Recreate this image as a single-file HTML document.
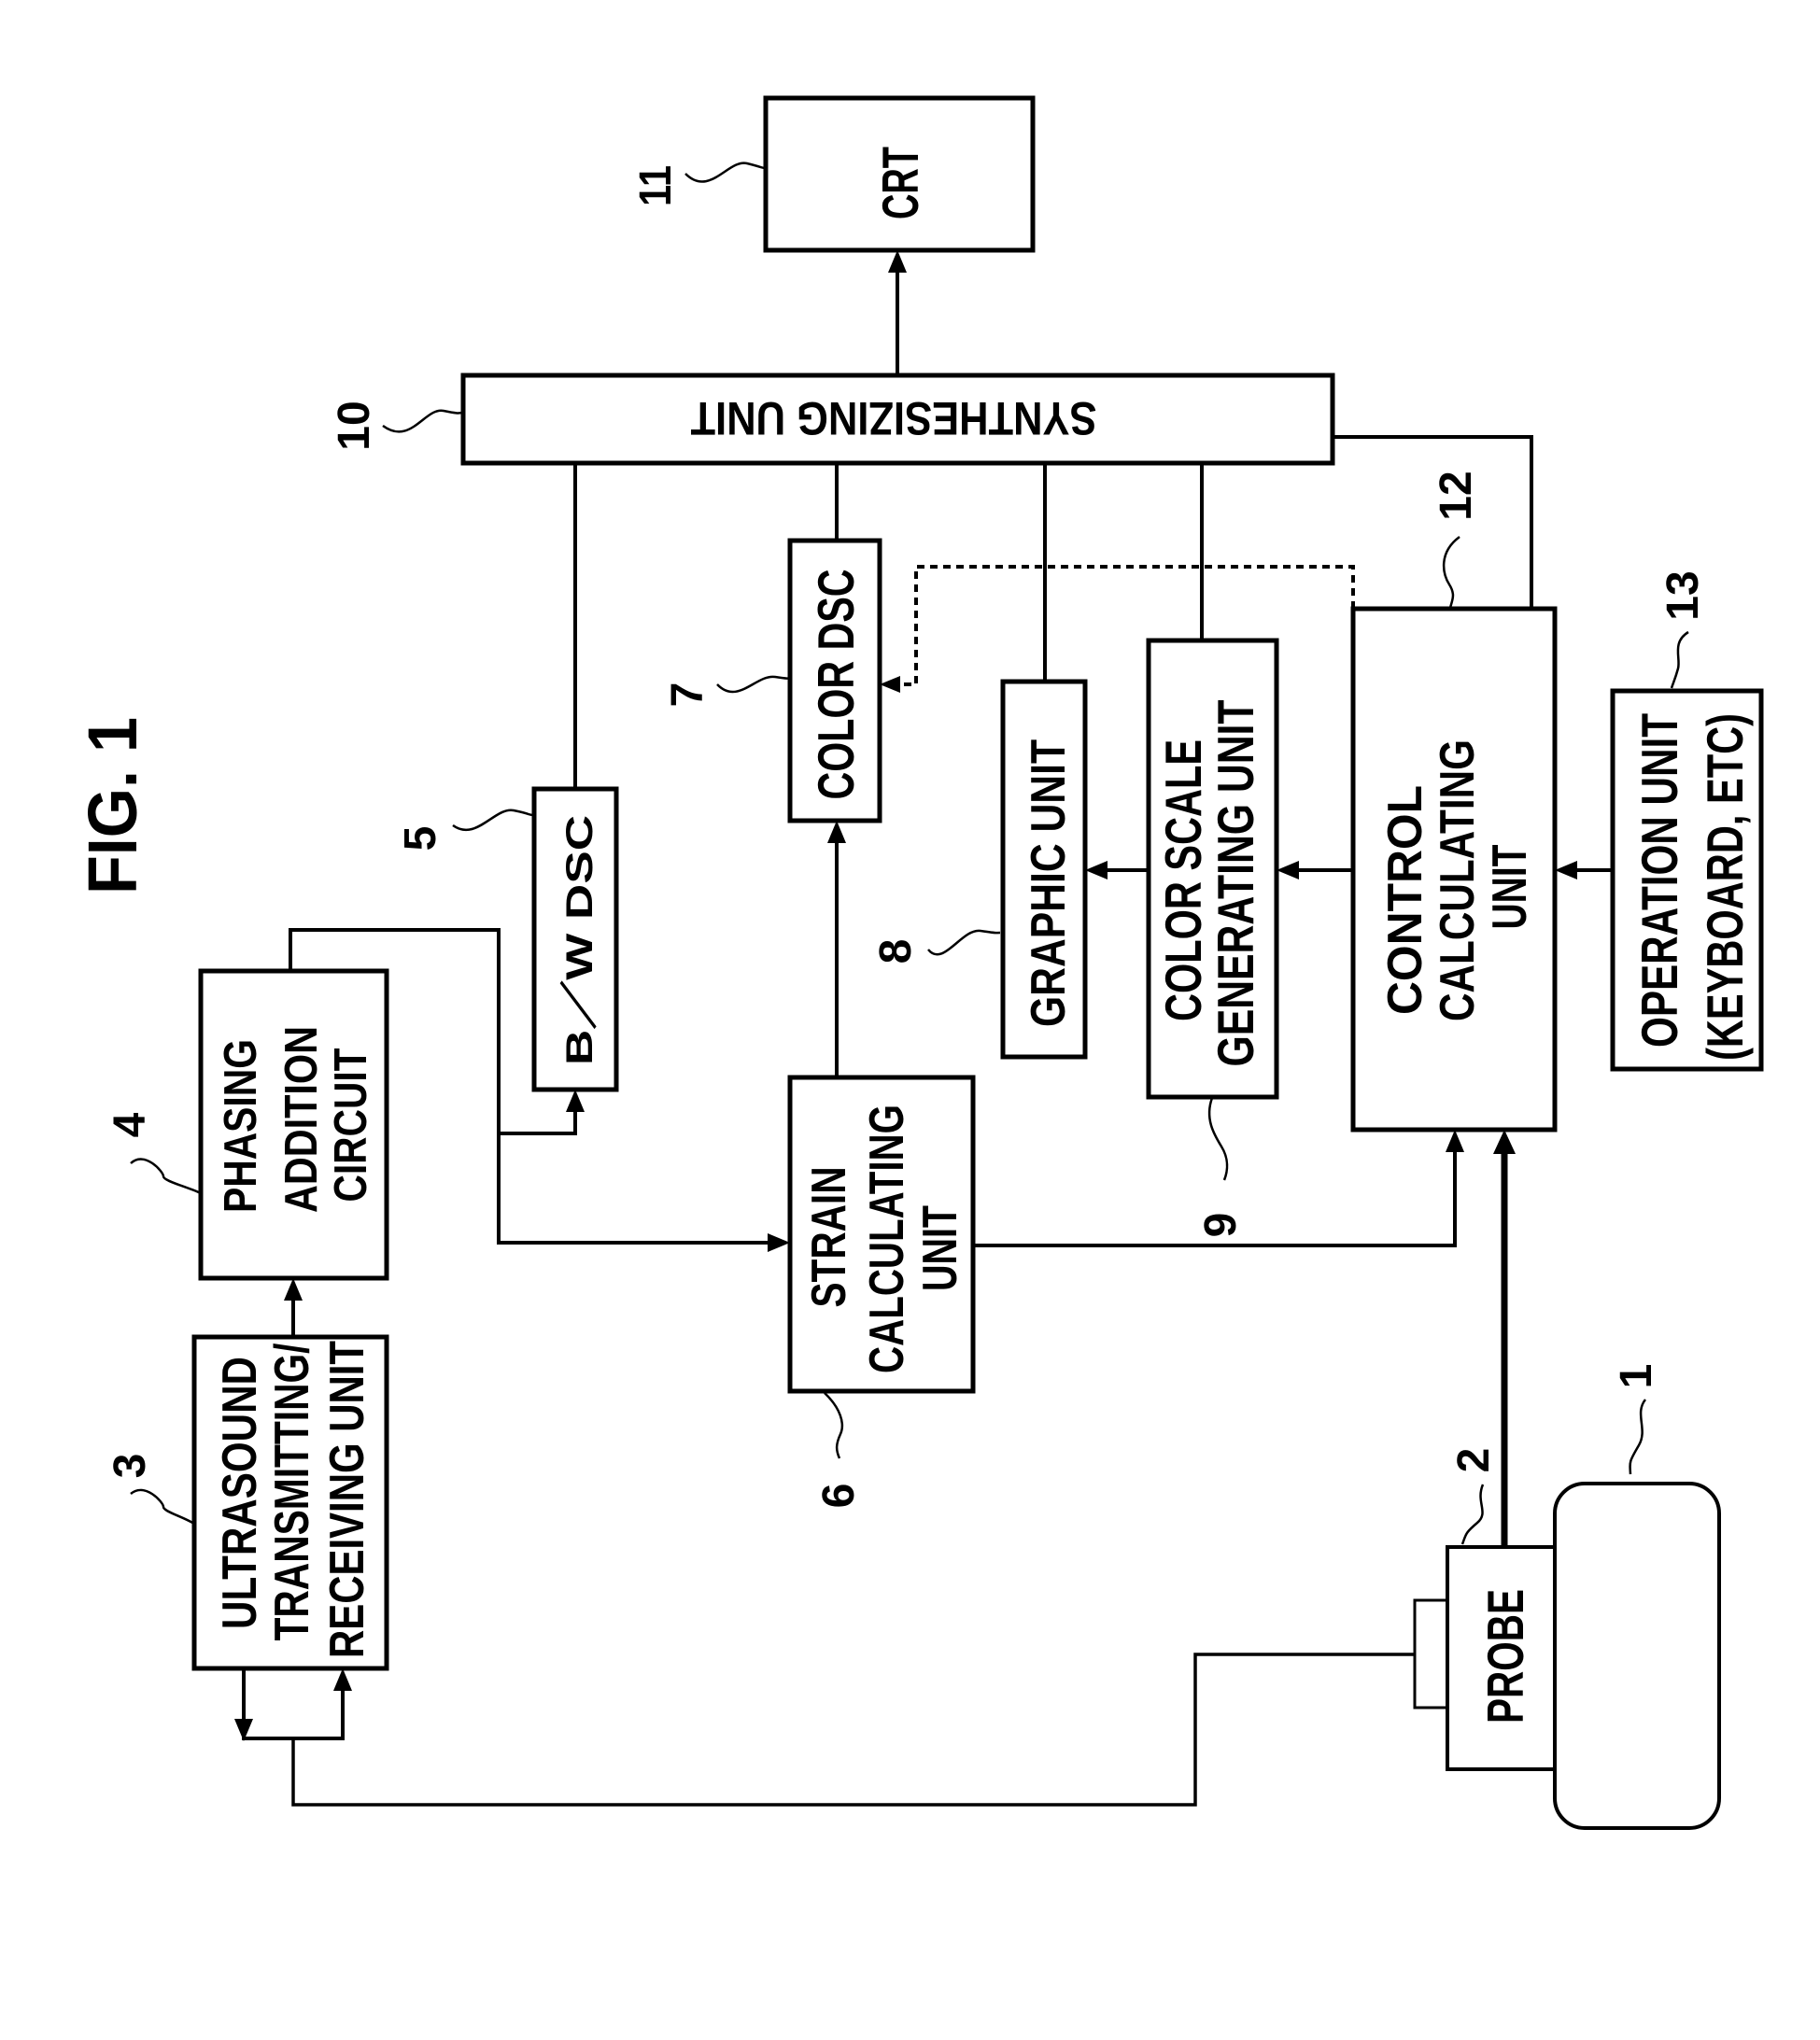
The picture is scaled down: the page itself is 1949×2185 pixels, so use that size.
<!DOCTYPE html>
<html><head><meta charset="utf-8"><style>html,body{margin:0;padding:0;background:#fff}svg{display:block}</style></head>
<body>
<svg width="1949" height="2185" viewBox="0 0 1949 2185" xmlns="http://www.w3.org/2000/svg" font-family="'Liberation Sans', sans-serif">
<g fill="none" stroke="#000" stroke-width="5">
<rect x="820" y="105" width="286" height="163"/>
<rect x="496" y="402" width="931" height="94"/>
<rect x="572" y="845" width="88" height="322"/>
<rect x="846" y="579" width="96" height="300"/>
<rect x="1074" y="730" width="88" height="402"/>
<rect x="1230" y="686" width="137" height="489"/>
<rect x="1449" y="652" width="216" height="558"/>
<rect x="1727" y="740" width="159" height="405"/>
<rect x="215" y="1040" width="199" height="329"/>
<rect x="208" y="1432" width="206" height="355"/>
<rect x="846" y="1154" width="196" height="336"/>
<rect x="1550" y="1657" width="115" height="238" stroke-width="4"/>
<rect x="1515" y="1714" width="35" height="115" stroke-width="3"/>
<rect x="1665" y="1589" width="176" height="369" rx="32" stroke-width="4"/>
</g>
<g fill="none" stroke="#000" stroke-width="4">
<line x1="961" y1="402" x2="961" y2="288"/>
<line x1="616" y1="496" x2="616" y2="845"/>
<line x1="896" y1="496" x2="896" y2="579"/>
<line x1="1119" y1="496" x2="1119" y2="730"/>
<line x1="1287" y1="496" x2="1287" y2="686"/>
<polyline points="1427,468 1640,468 1640,652"/>
<line x1="1727" y1="932" x2="1685" y2="932"/>
<line x1="1449" y1="932" x2="1387" y2="932"/>
<line x1="1230" y1="932" x2="1182" y2="932"/>
<line x1="896" y1="1154" x2="896" y2="899"/>
<polyline points="1042,1334 1558,1334 1558,1230"/>
<line x1="1611" y1="1657" x2="1611" y2="1230" stroke-width="7"/>
<polyline points="311,1040 311,996 534,996 534,1331 826,1331"/>
<polyline points="534,1214 616,1214 616,1187"/>
<line x1="314" y1="1432" x2="314" y2="1389"/>
<polyline points="261,1787 261,1862 367,1862 367,1807"/>
<polyline points="314,1862 314,1933 1280,1933 1280,1772 1515,1772" stroke-width="3.5"/>
<polyline points="1449,652 1449,607 981,607 981,733 962,733" stroke-dasharray="8,6" stroke-width="4"/>
</g>
<g fill="#000">
<polygon points="961,268 951,292 971,292"/>
<polygon points="1665,932 1689,922 1689,942"/>
<polygon points="1367,932 1391,922 1391,942"/>
<polygon points="1162,932 1186,922 1186,942"/>
<polygon points="896,879 886,903 906,903"/>
<polygon points="1558,1210 1548,1234 1568,1234"/>
<polygon points="1611,1210 1599,1236 1623,1236"/>
<polygon points="616,1167 606,1191 626,1191"/>
<polygon points="846,1331 822,1321 822,1341"/>
<polygon points="314,1369 304,1393 324,1393"/>
<polygon points="261,1865 251,1841 271,1841"/>
<polygon points="367,1787 357,1811 377,1811"/>
<polygon points="942,733 964,724 964,742"/>
</g>
<g fill="none" stroke="#000" stroke-width="2.5">
<path d="M734,186 C760,212 780,170 800,175 S815,180 820,180"/>
<path d="M410,456 C440,478 455,436 475,440 S490,442 496,442"/>
<path d="M485,884 C510,902 530,864 550,868 S565,873 572,873"/>
<path d="M768,733 C790,756 810,722 830,725 S842,726 846,726"/>
<path d="M994,1017 C1010,1037 1030,994 1050,997 S1065,999 1071,999"/>
<path d="M1563,575 C1540,592 1545,615 1552,626 S1555,643 1553,651"/>
<path d="M1808,677 C1790,688 1800,705 1797,716 S1792,731 1790,737"/>
<path d="M140,1246 C155,1232 175,1255 175,1260 S200,1271 215,1278"/>
<path d="M140,1600 C155,1587 175,1609 175,1614 S195,1624 208,1632"/>
<path d="M883,1492 C900,1508 905,1525 900,1536 S895,1553 899,1562"/>
<path d="M1298,1176 C1290,1198 1300,1215 1308,1228 S1315,1254 1311,1264"/>
<path d="M1588,1590 C1580,1609 1595,1620 1582,1631 S1570,1643 1566,1654"/>
<path d="M1762,1499 C1750,1514 1765,1531 1755,1548 S1745,1565 1746,1579"/>
</g>
<g fill="#000" text-anchor="middle" font-weight="bold">
<text transform="translate(983,196) rotate(-90)" font-size="55" textLength="78" lengthAdjust="spacingAndGlyphs">CRT</text>
<text transform="translate(957,431) rotate(180)" font-size="50" textLength="435" lengthAdjust="spacingAndGlyphs">SYNTHESIZING UNIT</text>
<text transform="translate(634,1007) rotate(-90)" font-size="40" textLength="268" lengthAdjust="spacingAndGlyphs">B／W  DSC</text>
<text transform="translate(914,733) rotate(-90)" font-size="55" textLength="247" lengthAdjust="spacingAndGlyphs">COLOR DSC</text>
<text transform="translate(146,863) rotate(-90)" font-size="74" textLength="190" lengthAdjust="spacingAndGlyphs">FIG. 1</text>
<text transform="translate(274,1206) rotate(-90)" font-size="49" textLength="186" lengthAdjust="spacingAndGlyphs">PHASING</text>
<text transform="translate(339,1199) rotate(-90)" font-size="49" textLength="200" lengthAdjust="spacingAndGlyphs">ADDITION</text>
<text transform="translate(392,1205) rotate(-90)" font-size="49" textLength="165" lengthAdjust="spacingAndGlyphs">CIRCUIT</text>
<text transform="translate(274,1599) rotate(-90)" font-size="52" textLength="292" lengthAdjust="spacingAndGlyphs">ULTRASOUND</text>
<text transform="translate(330,1598) rotate(-90)" font-size="52" textLength="319" lengthAdjust="spacingAndGlyphs">TRANSMITTING/</text>
<text transform="translate(389,1606) rotate(-90)" font-size="52" textLength="340" lengthAdjust="spacingAndGlyphs">RECEIVING UNIT</text>
<text transform="translate(905,1325) rotate(-90)" font-size="52" textLength="151" lengthAdjust="spacingAndGlyphs">STRAIN</text>
<text transform="translate(967,1327) rotate(-90)" font-size="52" textLength="288" lengthAdjust="spacingAndGlyphs">CALCULATING</text>
<text transform="translate(1024,1337) rotate(-90)" font-size="52" textLength="92" lengthAdjust="spacingAndGlyphs">UNIT</text>
<text transform="translate(1522,964) rotate(-90)" font-size="52" textLength="246" lengthAdjust="spacingAndGlyphs">CONTROL</text>
<text transform="translate(1578,943) rotate(-90)" font-size="52" textLength="302" lengthAdjust="spacingAndGlyphs">CALCULATING</text>
<text transform="translate(1634,950) rotate(-90)" font-size="52" textLength="91" lengthAdjust="spacingAndGlyphs">UNIT</text>
<text transform="translate(1796,943) rotate(-90)" font-size="55" textLength="358" lengthAdjust="spacingAndGlyphs">OPERATION UNIT</text>
<text transform="translate(1866,950) rotate(-90)" font-size="55" textLength="372" lengthAdjust="spacingAndGlyphs">(KEYBOARD, ETC)</text>
<text transform="translate(1286,943) rotate(-90)" font-size="55" textLength="302" lengthAdjust="spacingAndGlyphs">COLOR SCALE</text>
<text transform="translate(1342,946) rotate(-90)" font-size="55" textLength="393" lengthAdjust="spacingAndGlyphs">GENERATING UNIT</text>
<text transform="translate(1140,946) rotate(-90)" font-size="52" textLength="308" lengthAdjust="spacingAndGlyphs">GRAPHIC UNIT</text>
<text transform="translate(1631,1774) rotate(-90)" font-size="55" textLength="144" lengthAdjust="spacingAndGlyphs">PROBE</text>
</g>
<g fill="#000" text-anchor="middle" font-weight="bold" font-size="48">
<text transform="translate(718,199) rotate(-90)" textLength="44" lengthAdjust="spacingAndGlyphs">11</text>
<text transform="translate(395,456) rotate(-90)">10</text>
<text transform="translate(466,898) rotate(-90)">5</text>
<text transform="translate(752,744) rotate(-90)">7</text>
<text transform="translate(975,1019) rotate(-90)">8</text>
<text transform="translate(155,1205) rotate(-90)">4</text>
<text transform="translate(155,1570) rotate(-90)">3</text>
<text transform="translate(914,1602) rotate(-90)">6</text>
<text transform="translate(1323,1312) rotate(-90)">9</text>
<text transform="translate(1575,531) rotate(-90)">12</text>
<text transform="translate(1818,638) rotate(-90)">13</text>
<text transform="translate(1594,1564) rotate(-90)">2</text>
<text transform="translate(1768,1474) rotate(-90)">1</text>
</g>
</svg>
</body></html>
